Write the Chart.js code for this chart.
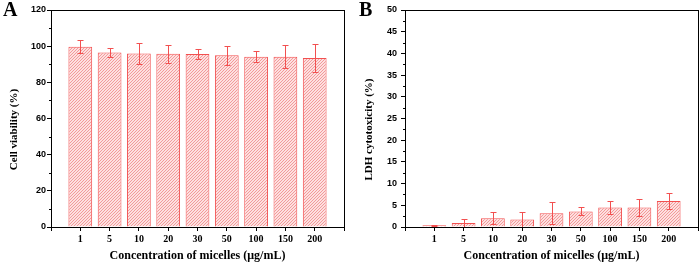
<!DOCTYPE html>
<html>
<head>
<meta charset="utf-8">
<script src="https://cdn.jsdelivr.net/npm/chart.js@4.4.1/dist/chart.umd.min.js"></script>
<style>
  body { margin: 0; background: #fff; }
  #wrap { position: relative; width: 700px; height: 264px; overflow: hidden; }
  canvas { position: absolute; top: 0; }
  .panel { position: absolute; top: -2px; font: bold 20px "Liberation Serif", serif; color: #000; }
</style>
</head>
<body>
<div id="wrap">
  <canvas id="chart_a" width="350" height="264" style="left:0"></canvas>
  <canvas id="chart_b" width="350" height="264" style="left:350px"></canvas>
  <div class="panel" style="left:3px">A</div>
  <div class="panel" style="left:359px">B</div>
</div>
<script>
var categories = ['1', '5', '10', '20', '30', '50', '100', '150', '200']
var viability = [99.7, 96.5, 96.0, 95.8, 95.6, 95.0, 94.2, 94.2, 93.5]
var viabilityErr = [3.7, 2.4, 5.7, 4.9, 2.8, 5.3, 3.1, 6.3, 7.7]
var ldh = [0.4, 0.9, 2.0, 1.7, 3.15, 3.6, 4.5, 4.5, 6.0]
var ldhErr = [0.15, 0.9, 1.4, 1.7, 2.5, 0.9, 1.4, 1.9, 1.9]

var red = '#f25050'

// fine diagonal hatch used as bar fill
function hatch() {
    var c = document.createElement('canvas')
    c.width = 3; c.height = 3
    var g = c.getContext('2d')
    g.fillStyle = '#fde0e0'
    g.fillRect(0, 0, 3, 3)
    g.fillStyle = '#f29a9a'
    g.fillRect(2, 0, 1, 1)
    g.fillRect(1, 1, 1, 1)
    g.fillRect(0, 2, 1, 1)
    return g.createPattern(c, 'repeat')
}

// frame, minor y ticks and error bars
var extras = {
    id: 'extras',
    afterDatasetsDraw: function(chart, args, opts) {
        var ctx = chart.ctx
        var a = chart.chartArea
        var y = chart.scales.y
        ctx.save()
        ctx.strokeStyle = red
        ctx.lineWidth = 1
        var meta = chart.getDatasetMeta(0)
        meta.data.forEach(function(bar, i) {
            var v = opts.values[i], e = opts.errors[i]
            var yt = Math.round(y.getPixelForValue(v + e)) + 0.5
            var yb = Math.round(y.getPixelForValue(v - e)) + 0.5
            var x = Math.round(bar.x) + 0.5
            ctx.beginPath()
            ctx.moveTo(x, yt); ctx.lineTo(x, yb)
            ctx.moveTo(x - 3, yt); ctx.lineTo(x + 3, yt)
            ctx.moveTo(x - 3, yb); ctx.lineTo(x + 3, yb)
            ctx.stroke()
        })
        ctx.strokeStyle = '#000'
        ctx.strokeRect(a.left + 0.5, a.top + 0.5, a.right - a.left, a.bottom - a.top)
        ctx.beginPath()
        for (var m = opts.minor; m < y.max; m += opts.step) {
            var py = Math.round(y.getPixelForValue(m)) + 0.5
            ctx.moveTo(a.left - 2, py); ctx.lineTo(a.left, py)
        }
        ctx.stroke()
        ctx.restore()
    }
}

function makeChart(id, values, errors, yMax, yStep, yTitle, yWidth, padRight, labelPad, titlePad) {
    var ctx = document.getElementById(id)
    return new Chart(ctx, {
        type: 'bar',
        data: {
            datasets: [{
                data: values.map(function(v, i) { return { x: i + 1, y: v } }),
                backgroundColor: hatch(),
                borderColor: red,
                borderWidth: 1,
                barPercentage: 0.9,
                categoryPercentage: 0.9
            }]
        },
        options: {
            responsive: false,
            animation: false,
            layout: { padding: { left: 0, top: 10, right: padRight, bottom: 0 } },
            plugins: {
                legend: { display: false },
                tooltip: { enabled: false },
                extras: { values: values, errors: errors, minor: yStep / 2, step: yStep }
            },
            scales: {
                x: {
                    type: 'linear',
                    min: 0, max: 10,
                    offset: false,
                    grid: { display: true, drawOnChartArea: false, drawTicks: true, tickLength: 4, color: '#000', offset: false },
                    border: { display: true, color: '#000' },
                    ticks: {
                        stepSize: 1, autoSkip: false, maxRotation: 0, padding: 2, color: '#000',
                        font: { family: 'Liberation Serif', weight: 'bold', size: 10 },
                        callback: function(v) { return categories[v - 1] || '' }
                    },
                    title: {
                        display: true, text: 'Concentration of micelles (μg/mL)', color: '#000',
                        font: { family: 'Liberation Serif', weight: 'bold', size: 12 },
                        padding: { top: 0, bottom: 1 }
                    },
                    afterFit: function(s) { s.height = 37 }
                },
                y: {
                    min: 0, max: yMax,
                    grid: { display: true, drawOnChartArea: false, drawTicks: true, tickLength: 4, color: '#000' },
                    border: { display: true, color: '#000' },
                    ticks: {
                        stepSize: yStep, padding: labelPad, color: '#000',
                        font: { family: 'Liberation Sans', weight: 'bold', size: 9 }
                    },
                    title: {
                        // trailing em spaces push the title a little below the axis centre, as in the original
                        display: true, text: yTitle + '\u2003\u2003', color: '#000',
                        font: { family: 'Liberation Serif', weight: 'bold', size: 11 },
                        padding: { top: titlePad, bottom: 0 }
                    },
                    afterFit: function(s) { s.width = yWidth }
                }
            }
        },
        plugins: [extras]
    })
}

makeChart('chart_a', viability, viabilityErr, 120, 20, 'Cell viability (%)', 51, 6, 1, 8)
makeChart('chart_b', ldh, ldhErr, 50, 5, 'LDH cytotoxicity (%)', 55, 2, 4, 13)
</script>
</body>
</html>
